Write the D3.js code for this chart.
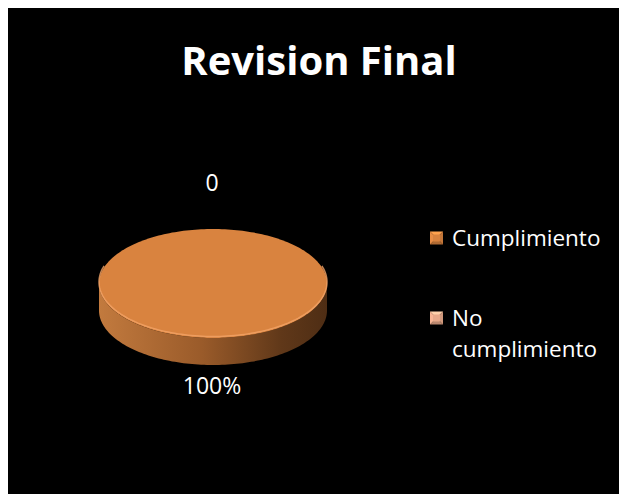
<!DOCTYPE html>
<html><head><meta charset="utf-8">
<script src="https://cdn.jsdelivr.net/npm/d3@7"></script>
<style>html,body{margin:0;padding:0;background:#fff;}svg{display:block;}</style>
</head><body>
<script>
const title = "Revision Final";
const categories = ["Cumplimiento", "No cumplimiento"];
const values = [100, 0];
const dataLabels = ["100%", "0"];
const legendLines = [["Cumplimiento"], ["No", "cumplimiento"]];

const W = 619, H = 494;
const svg = d3.select("body").append("svg").attr("width", W).attr("height", H);
const defs = svg.append("defs");

svg.append("rect").attr("x", 8).attr("y", 8).attr("width", W).attr("height", H).attr("fill", "#000");

const font = "'Open Sans', 'Noto Sans', sans-serif";

svg.append("text").attr("x", 319).attr("y", 75).attr("text-anchor", "middle")
  .attr("font-family", font).attr("font-weight", "bold").attr("font-size", 40)
  .attr("fill", "#fff").text(title);

const cx = 213, cy = 283.5, rx = 114, ry = 54.5, depth = 27;
const topColors = ["#d9833f", "#e8a98a"];
const sideStops = [
  [["0", "#c27a3e"], ["0.45", "#9a5b2a"], ["0.8", "#603819"], ["1", "#4e2d14"]],
  [["0", "#e0a080"], ["1", "#7a5040"]]
];
sideStops.forEach((st, i) => {
  const g = defs.append("linearGradient").attr("id", "side" + i)
    .attr("gradientUnits", "userSpaceOnUse").attr("x1", cx - rx).attr("x2", cx + rx).attr("y1", 0).attr("y2", 0);
  st.forEach(s => g.append("stop").attr("offset", s[0]).attr("stop-color", s[1]));
});

const pie = d3.pie().sort(null).value(d => d)(values);
const px = a => cx + rx * Math.sin(a);
const py = a => cy - ry * Math.cos(a);

function arcPts(a0, a1, n) {
  const pts = [];
  for (let i = 0; i <= n; i++) { const a = a0 + (a1 - a0) * i / n; pts.push([px(a), py(a)]); }
  return pts;
}

// sides
pie.forEach((p, i) => {
  const a0 = Math.max(p.startAngle, Math.PI / 2), a1 = Math.min(p.endAngle, 3 * Math.PI / 2);
  if (a1 <= a0) return;
  const top = arcPts(a0, a1, 120);
  const bot = top.map(q => [q[0], q[1] + depth]).reverse();
  svg.append("path").attr("d", d3.line()(top.concat(bot)) + "Z").attr("fill", "url(#side" + i + ")");
});

// tops
pie.forEach((p, i) => {
  if (p.endAngle - p.startAngle <= 0) return;
  let pts = arcPts(p.startAngle, p.endAngle, 240);
  const full = p.endAngle - p.startAngle >= 2 * Math.PI - 1e-6;
  if (!full) pts = [[cx, cy]].concat(pts);
  svg.append("path").attr("d", d3.line()(pts) + "Z").attr("fill", topColors[i]);
  const a0 = Math.max(p.startAngle, Math.PI / 2 - 0.3), a1 = Math.min(p.endAngle, 3 * Math.PI / 2 + 0.3);
  if (a1 > a0) {
    svg.append("path").attr("d", d3.line()(arcPts(a0, a1, 120).map(q => [q[0], q[1] - 1.5])))
      .attr("fill", "none").attr("stroke", "#f2a468").attr("stroke-width", 1.5).attr("opacity", 0.8);
  }
});

// data labels
const lry = 101.5, lcy = 284.5;
pie.forEach((p, i) => {
  const a = (p.startAngle + p.endAngle) / 2;
  svg.append("text").attr("x", cx - 1)
    .attr("y", lcy - lry * Math.cos(a)).attr("dy", "0.35em")
    .attr("text-anchor", "middle").attr("font-family", font).attr("font-size", 23)
    .attr("fill", "#fff").text(dataLabels[i]);
});

// legend
const legY = [238, 318];
categories.forEach((c, i) => {
  const s = 13, x0 = 430, y0 = legY[i] - s / 2;
  const g = svg.append("g");
  const col = d3.color(topColors[i]);
  const tri = (pts, color) => g.append("path").attr("d", d3.line()(pts) + "Z").attr("fill", color);
  const m = [x0 + s / 2, y0 + s / 2];
  tri([[x0, y0], [x0 + s, y0], m], col.brighter(0.6));
  tri([[x0 + s, y0], [x0 + s, y0 + s], m], col.darker(0.3));
  tri([[x0, y0 + s], [x0 + s, y0 + s], m], col.darker(0.6));
  tri([[x0, y0], [x0, y0 + s], m], col.brighter(0.2));
  g.append("rect").attr("x", x0 + 3).attr("y", y0 + 3).attr("width", s - 6).attr("height", s - 6).attr("fill", col);
  legendLines[i].forEach((t, k) => {
    g.append("text").attr("x", 452).attr("y", legY[i] + 8 + k * 31)
      .attr("font-family", font).attr("font-size", 22.5).attr("fill", "#fff").text(t);
  });
});
</script>
</body></html>
